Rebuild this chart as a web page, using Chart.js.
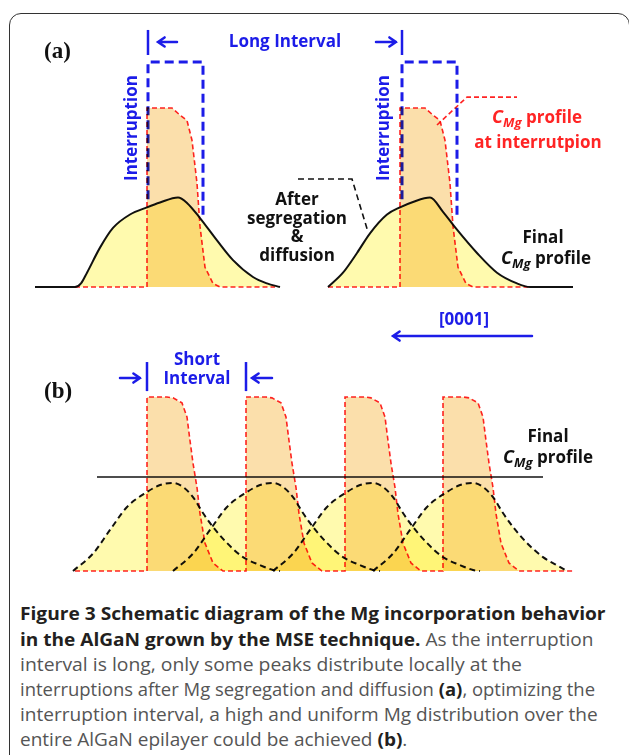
<!DOCTYPE html>
<html>
<head>
<meta charset="utf-8">
<script src="https://cdn.jsdelivr.net/npm/chart.js@4.4.1/dist/chart.umd.min.js"></script>
<style>
  body { margin:0; background:#fff; width:629px; height:755px; overflow:hidden; position:relative; font-family:'Open Sans', sans-serif; }
  #frame { position:absolute; left:9px; top:13px; width:619px; height:760px; border:1.5px solid #333; border-radius:12px; }
  canvas { position:absolute; left:0; }
  #chartA { top:0; }
  #chartB { top:345px; }
  .cap { position:absolute; left:20px; white-space:nowrap; font-size:18px; line-height:22px; color:#555; transform-origin:0 50%; }
  .cap b { color:#231f20; }
</style>
</head>
<body>
<div id="frame"></div>
<canvas id="chartA" width="629" height="345"></canvas>
<canvas id="chartB" width="629" height="245"></canvas>

<div class="cap" style="top:602px" data-w="585"><b>Figure 3 Schematic diagram of the Mg incorporation behavior</b></div>
<div class="cap" style="top:628px" data-w="573"><b>in the AlGaN grown by the MSE technique.</b> As the interruption</div>
<div class="cap" style="top:653px" data-w="502">interval is long, only some peaks distribute locally at the</div>
<div class="cap" style="top:678px" data-w="575">interruptions after Mg segregation and diffusion <b>(a)</b>, optimizing the</div>
<div class="cap" style="top:703px" data-w="578">interruption interval, a high and uniform Mg distribution over the</div>
<div class="cap last" style="top:728px">entire AlGaN epilayer could be achieved <b>(b)</b>.</div>

<script>
'use strict'

//x = position along growth direction (arbitrary units), y = C_Mg normalised to the interruption peak

//(a) long interval - Mg profile at each interruption
let redA1 = [[75,0],[147,0],[147,1],[172,1],[180,0.96],[187,0.93],[192,0.82],[197,0.58],[200,0.34],[205,0.11],[213,0.02],[220,0],[275,0]];
let redA2 = [[328,0],[400,0],[400,1],[425,1],[433,0.96],[440,0.93],[445,0.82],[450,0.58],[453,0.34],[458,0.11],[466,0.02],[473,0],[530,0]];
//(a) final profile after segregation & diffusion
let finalA1 = [[35,0],[75,0],[81,0.02],[87,0.08],[100,0.22],[113,0.33],[130,0.405],[147,0.445],[160,0.472],[178,0.5],[187,0.47],[200,0.385],[217,0.26],[233,0.15],[253,0.056],[267,0.02],[280,0]];
let finalA2 = [[328,0],[343,0.08],[357,0.19],[370,0.3],[387,0.405],[400,0.445],[413,0.475],[430,0.5],[443,0.42],[457,0.32],[477,0.19],[497,0.08],[517,0.02],[530,0],[573,0]];
//(a) interruption windows and interval ticks
let boxA1 = [[148,0.49],[148,1.257],[203,1.257],[203,0.40]];
let boxA2 = [[402,0.49],[402,1.257],[457,1.257],[457,0.40]];
let tickA1 = [[148,1.296],[148,1.436]];
let tickA2 = [[402,1.296],[402,1.436]];
//(a) leader lines
let leadRed = [[437,0.905],[467,1.061],[517,1.061]];
let leadBlack = [[298,0.603],[352,0.603],[368,0.307]];

//(b) short interval - four interruptions
let redB = [[75,0],
  [147,0],[147,1],[167,1],[173,0.995],[182,0.966],[187,0.885],[190,0.75],[193,0.62],[197,0.48],[200,0.33],[205,0.16],[213,0.046],[223,0],
  [246,0],[246,1],[266,1],[272,0.995],[281,0.966],[286,0.885],[289,0.75],[292,0.62],[296,0.48],[299,0.33],[304,0.16],[312,0.046],[322,0],
  [345,0],[345,1],[365,1],[371,0.995],[380,0.966],[385,0.885],[388,0.75],[391,0.62],[395,0.48],[398,0.33],[403,0.16],[411,0.046],[421,0],
  [443,0],[443,1],[463,1],[469,0.995],[478,0.966],[483,0.885],[486,0.75],[489,0.62],[493,0.48],[496,0.33],[501,0.16],[509,0.046],[519,0],
  [575,0]];
//(b) diffused profile of each interruption
let diffB1 = [[73,0],[93,0.10],[110,0.236],[127,0.368],[147,0.454],[160,0.494],[173,0.506],[183,0.483],[193,0.425],[203,0.333],[213,0.253],[227,0.161],[243,0.08],[260,0.034],[273,0.006],[280,0]];
let diffB2 = [[173,0],[193,0.10],[210,0.236],[227,0.368],[247,0.454],[260,0.494],[273,0.506],[283,0.483],[293,0.425],[303,0.333],[313,0.253],[327,0.161],[343,0.08],[360,0.034],[373,0.006],[380,0]];
let diffB3 = [[273,0],[293,0.10],[310,0.236],[327,0.368],[347,0.454],[360,0.494],[373,0.506],[383,0.483],[393,0.425],[403,0.333],[413,0.253],[427,0.161],[443,0.08],[460,0.034],[473,0.006],[480,0]];
let diffB4 = [[373,0],[393,0.10],[410,0.236],[427,0.368],[447,0.454],[460,0.494],[473,0.506],[483,0.483],[493,0.425],[503,0.333],[513,0.253],[527,0.161],[543,0.08],[558,0.03],[567,0]];
//(b) final uniform profile
let finalB = [[97,0.54],[543,0.54]];
let tickB1 = [[147,1.034],[147,1.201]];
let tickB2 = [[246,1.034],[246,1.201]];

//colours
let red = '#ff2424';
let blue = '#1c1ce8';
let black = '#111';
let tan = '#fbdfab';
let paleYellow = '#fffaae';

//helper to make a dataset from a point list
function series(points, style){
  let ds = {
    data: points.map(p => ({x: p[0], y: p[1]})),
    pointRadius: 0,
    fill: false,
    tension: 0
  };
  return Object.assign(ds, style);
}

let redStyle = {borderColor: red, borderWidth: 1.6, borderDash: [5, 3], fill: 'origin', backgroundColor: tan};
let blueStyle = {borderColor: blue, borderWidth: 3, borderDash: [9, 5]};
let tickStyle = {borderColor: blue, borderWidth: 2.5};
let finalStyle = {borderColor: black, borderWidth: 2, fill: 'origin', backgroundColor: paleYellow, cubicInterpolationMode: 'monotone'};
let diffStyle = {borderColor: black, borderWidth: 2, borderDash: [6, 4], fill: 'origin', backgroundColor: paleYellow, cubicInterpolationMode: 'monotone'};

//fills multiply like the overlapping transparent shapes of the drawing
let blendPlugin = {
  id: 'blend',
  beforeDatasetsDraw(chart){
    chart.ctx.save();
    chart.ctx.globalCompositeOperation = 'multiply';
  },
  afterDatasetsDraw(chart){
    chart.ctx.restore();
  }
};

function drawRuns(ctx, runs, cx, cy, color){
  let w = 0;
  runs.forEach(r => { ctx.font = r.font; w += ctx.measureText(r.t).width; });
  let x = cx - w / 2;
  ctx.fillStyle = color;
  ctx.textAlign = 'left';
  ctx.textBaseline = 'middle';
  runs.forEach(r => {
    ctx.font = r.font;
    ctx.fillText(r.t, x, cy + (r.dy || 0));
    x += ctx.measureText(r.t).width;
  });
}

//text and arrow annotations placed in data units
function annotations(texts, arrows){
  return {
    id: 'annot',
    afterDraw(chart){
      let ctx = chart.ctx;
      let xs = chart.scales.x;
      let ys = chart.scales.y;
      ctx.save();
      texts.forEach(t => {
        let px = xs.getPixelForValue(t.x);
        let py = ys.getPixelForValue(t.y);
        let runs = t.runs || [{t: t.text, font: t.font}];
        if(t.rotate){
          ctx.save();
          ctx.translate(px, py);
          ctx.rotate(-Math.PI / 2);
          drawRuns(ctx, runs, 0, 0, t.color);
          ctx.restore();
        } else if(t.align === 'left'){
          ctx.font = runs[0].font;
          ctx.fillStyle = t.color;
          ctx.textAlign = 'left';
          ctx.textBaseline = 'middle';
          ctx.fillText(runs[0].t, px, py);
        } else {
          drawRuns(ctx, runs, px, py, t.color);
        }
      });
      arrows.forEach(a => {
        let x1 = xs.getPixelForValue(a[0]), y1 = ys.getPixelForValue(a[1]);
        let x2 = xs.getPixelForValue(a[2]), y2 = ys.getPixelForValue(a[3]);
        let ang = Math.atan2(y2 - y1, x2 - x1);
        ctx.strokeStyle = blue;
        ctx.lineWidth = 2.5;
        ctx.lineCap = 'round';
        ctx.beginPath();
        ctx.moveTo(x1, y1);
        ctx.lineTo(x2, y2);
        ctx.moveTo(x2 - 8 * Math.cos(ang - 0.6), y2 - 8 * Math.sin(ang - 0.6));
        ctx.lineTo(x2, y2);
        ctx.lineTo(x2 - 8 * Math.cos(ang + 0.6), y2 - 8 * Math.sin(ang + 0.6));
        ctx.stroke();
      });
      ctx.restore();
    }
  };
}

let B17 = 'bold 17px "Open Sans"';
function cmg(size){
  return [
    {t: 'C', font: 'italic bold ' + (size + 1) + 'px "Open Sans"'},
    {t: 'Mg', font: 'italic bold ' + (size - 4) + 'px "Open Sans"', dy: 5},
    {t: ' profile', font: 'bold ' + size + 'px "Open Sans"'}
  ];
}

let textsA = [
  {text: '(a)', font: 'bold 23px "Liberation Serif"', x: 44, y: 1.313, color: '#111', align: 'left'},
  {text: 'Long Interval', font: B17, x: 285, y: 1.369, color: blue},
  {text: 'Interruption', font: B17, x: 132, y: 0.888, color: blue, rotate: true},
  {text: 'Interruption', font: B17, x: 384, y: 0.888, color: blue, rotate: true},
  {runs: cmg(17), x: 537, y: 0.944, color: red},
  {text: 'at interrutpion', font: B17, x: 538, y: 0.804, color: red},
  {text: 'After', font: B17, x: 297, y: 0.486, color: '#111'},
  {text: 'segregation', font: B17, x: 297, y: 0.380, color: '#111'},
  {text: '&', font: B17, x: 297, y: 0.279, color: '#111'},
  {text: 'diffusion', font: B17, x: 297, y: 0.173, color: '#111'},
  {text: 'Final', font: B17, x: 543, y: 0.274, color: '#111'},
  {runs: cmg(17), x: 546, y: 0.156, color: '#111'},
  {text: '[0001]', font: B17, x: 464, y: -0.184, color: blue}
];
let arrowsA = [[177, 1.369, 158, 1.369], [376, 1.369, 396, 1.369], [532, -0.274, 393, -0.274]];

let textsB = [
  {text: '(b)', font: 'bold 23px "Liberation Serif"', x: 44, y: 1.029, color: '#111', align: 'left'},
  {text: 'Short', font: B17, x: 197, y: 1.213, color: blue},
  {text: 'Interval', font: B17, x: 197, y: 1.103, color: blue},
  {text: 'Final', font: B17, x: 548, y: 0.770, color: '#111'},
  {runs: cmg(17), x: 548, y: 0.649, color: '#111'}
];
let arrowsB = [[120, 1.109, 140, 1.109], [272, 1.109, 252, 1.109]];

function makeChart(id, datasets, yMin, yMax, plugin){
  return new Chart(document.getElementById(id), {
    type: 'line',
    data: {datasets: datasets},
    options: {
      responsive: false,
      animation: false,
      layout: {padding: 0},
      plugins: {legend: {display: false}, tooltip: {enabled: false}},
      scales: {
        x: {type: 'linear', min: 0, max: 629, display: false},
        y: {type: 'linear', min: yMin, max: yMax, display: false}
      }
    },
    plugins: [blendPlugin, plugin]
  });
}

//panel (a)
makeChart('chartA', [
  series(boxA1, blueStyle),
  series(boxA2, blueStyle),
  series(tickA1, tickStyle),
  series(tickA2, tickStyle),
  series(finalA1, finalStyle),
  series(finalA2, finalStyle),
  series(redA1, redStyle),
  series(redA2, redStyle),
  series(leadRed, {borderColor: red, borderWidth: 1.6, borderDash: [5, 3]}),
  series(leadBlack, {borderColor: black, borderWidth: 1.6, borderDash: [6, 4]})
], -0.324, 1.6034, annotations(textsA, arrowsA));

//panel (b)
makeChart('chartB', [
  series(tickB1, tickStyle),
  series(tickB2, tickStyle),
  series(finalB, {borderColor: black, borderWidth: 1.5}),
  series(diffB1, diffStyle),
  series(diffB2, diffStyle),
  series(diffB3, diffStyle),
  series(diffB4, diffStyle),
  series(redB, redStyle)
], -0.1092, 1.2989, annotations(textsB, arrowsB));

//caption: fit each full line to its original width, the last line gets the mean squeeze
let caps = document.querySelectorAll('.cap');
let ratio = 0, n = 0;
caps.forEach(el => {
  if(!el.dataset.w) return;
  let r = parseFloat(el.dataset.w) / el.offsetWidth;
  el.style.transform = 'scaleX(' + r.toFixed(3) + ')';
  ratio += r;
  n++;
});
document.querySelector('.cap.last').style.transform = 'scaleX(' + (ratio / n).toFixed(3) + ')';
</script>
</body>
</html>
